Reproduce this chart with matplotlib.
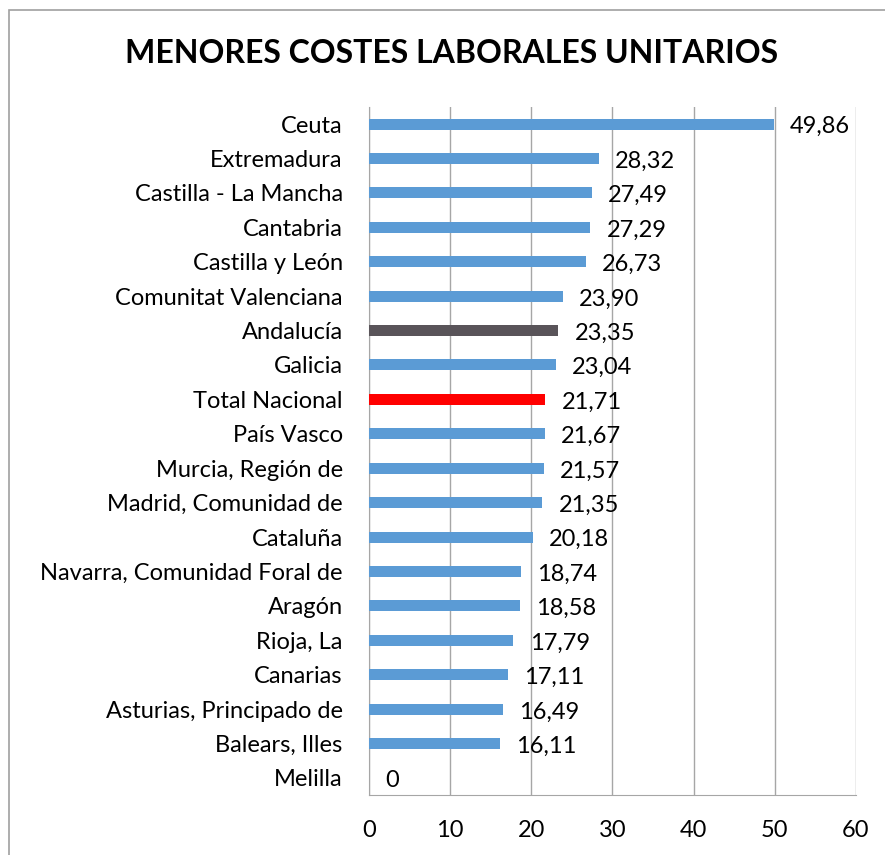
import matplotlib
matplotlib.use("Agg")
import matplotlib.pyplot as plt
from matplotlib.patches import Rectangle

plt.rcParams["font.family"] = ["Lato", "DejaVu Sans"]

REGIONS = ["Ceuta", "Extremadura", "Castilla - La Mancha", "Cantabria", "Castilla y León",
           "Comunitat Valenciana", "Andalucía", "Galicia", "Total Nacional", "País Vasco",
           "Murcia, Región de", "Madrid, Comunidad de", "Cataluña",
           "Navarra, Comunidad Foral de", "Aragón", "Rioja, La", "Canarias",
           "Asturias, Principado de", "Balears, Illes", "Melilla"]
VALUES = [49.86, 28.32, 27.49, 27.29, 26.73, 23.90, 23.35, 23.04, 21.71, 21.67,
          21.57, 21.35, 20.18, 18.74, 18.58, 17.79, 17.11, 16.49, 16.11, 0]
XTICKS = [0, 10, 20, 30, 40, 50, 60]

BLUE = "#5B9BD5"
HIGHLIGHT = {"Andalucía": "#595459", "Total Nacional": "#FF0000"}
FS = 17

fig = plt.figure(figsize=(8.85, 8.55), dpi=100)
ax = fig.add_axes([0.417, 0.070, 0.550, 0.805])

ypos = list(range(len(REGIONS)))
colors = [HIGHLIGHT.get(r, BLUE) for r in REGIONS]
ax.barh(ypos, VALUES, height=0.32, color=colors, linewidth=0, zorder=3)

for y, v in zip(ypos, VALUES):
    ax.text(v + 2.0, y + 0.08, f"{v:.2f}".replace(".", ",") if v else "0",
            va="center", ha="left", fontsize=FS, zorder=4)

ax.set_yticks(ypos)
ax.set_yticklabels(REGIONS, fontsize=FS)
ax.set_ylim(len(REGIONS) - 0.5, -0.5)
ax.set_xlim(0, 60)
ax.set_xticks(XTICKS)
ax.set_xticklabels([str(t) for t in XTICKS], fontsize=FS)
ax.tick_params(axis="both", length=0)
ax.tick_params(axis="x", pad=18)
ax.tick_params(axis="y", pad=19)
ax.grid(axis="x", color="#A6A6A6", linewidth=1, zorder=0)
for s in ["top", "right"]:
    ax.spines[s].set_visible(False)
ax.spines["left"].set_color("#A6A6A6")
ax.spines["bottom"].set_color("#A6A6A6")

fig.text(0.51, 0.937, "MENORES COSTES LABORALES UNITARIOS", ha="center", va="center",
         fontsize=23, fontweight="bold")

fig.add_artist(Rectangle((0.010, -0.01), 1.0, 0.998, transform=fig.transFigure,
                         fill=False, edgecolor="#A0A0A0", linewidth=1.2))

fig.savefig("out.png", dpi=100)
